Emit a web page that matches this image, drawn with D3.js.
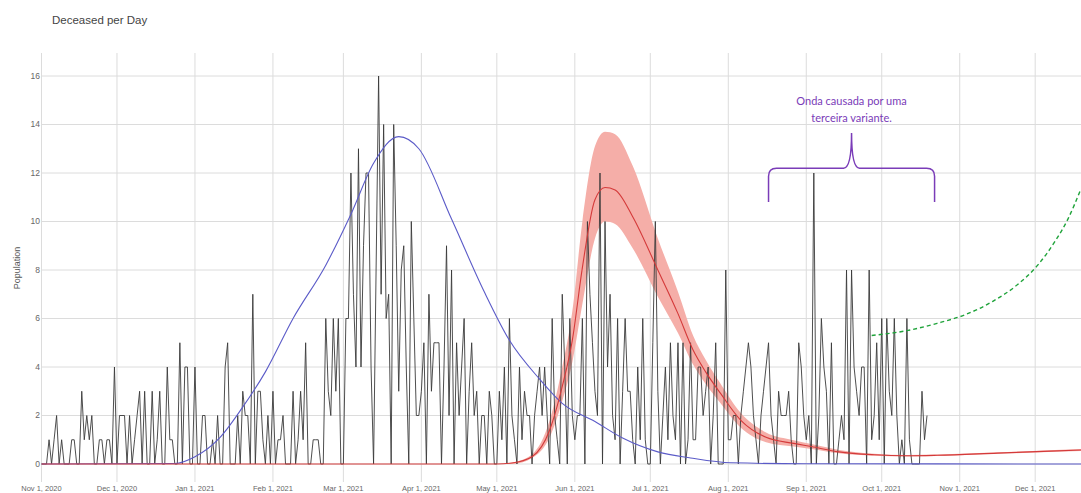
<!DOCTYPE html>
<html>
<head>
<meta charset="utf-8">
<script src="https://cdn.jsdelivr.net/npm/d3@7"></script>
<style>
  body { margin: 0; background: #fff; }
  svg { display: block; font-family: "Liberation Sans", Arial, sans-serif; }
</style>
</head>
<body>
<div id="chart"></div>
<script>
// daily deceased, one value per day starting Nov 1, 2020
const startDate = "2020-11-01";
const deceased = [
  0,0,0,1,0,1,2,0,1,0,
  0,0,1,1,0,0,3,1,2,1,
  2,0,0,1,1,0,1,1,0,4,
  0,2,2,2,0,2,0,1,2,3,
  0,3,0,0,3,0,1,3,0,0,
  4,1,1,0,0,5,0,4,4,0,
  0,4,0,0,2,2,0,0,1,0,
  2,0,0,4,5,0,0,0,2,0,
  3,2,2,0,7,0,3,3,1,0,
  2,0,3,0,1,1,2,0,0,0,
  3,0,1,3,1,5,0,0,1,1,
  1,0,0,6,3,2,6,3,6,0,
  0,6,6,12,7,4,13,4,9,12,
  12,4,0,8,16,7,14,6,7,0,
  14,9,3,8,9,4,0,10,6,2,
  2,3,5,0,7,3,5,5,5,0,
  4,9,2,8,0,5,2,4,6,0,
  3,5,2,3,0,2,2,0,3,2,
  0,0,3,1,4,0,6,2,1,0,
  4,1,3,2,2,0,2,3,4,2,
  4,2,0,6,2,1,0,7,4,0,
  6,2,1,2,2,6,0,10,7,5,
  3,2,12,0,10,4,7,2,1,6,
  0,3,6,3,3,1,0,4,1,6,
  1,0,0,5,10,3,0,2,4,1,
  5,2,1,5,0,5,0,1,5,1,
  1,4,4,2,3,4,0,2,5,0,
  0,0,8,1,1,2,2,0,2,3,
  4,5,4,2,1,0,2,3,4,5,
  2,1,0,3,2,2,2,3,1,0,
  0,5,4,2,1,2,0,12,0,2,
  6,4,3,0,5,0,0,1,2,1,
  8,0,8,4,3,2,4,4,0,8,
  1,2,5,1,6,0,6,3,2,6,
  2,0,1,0,6,1,0,0,0,0,
  3,1,2
];

// first wave fit (blue)
const wave1Dates = ["2020-11-01","2020-12-24","2021-01-01","2021-01-11","2021-01-19","2021-01-29",
  "2021-02-09","2021-02-22","2021-03-04","2021-03-13","2021-03-23","2021-03-31","2021-04-13",
  "2021-04-26","2021-05-06","2021-05-18","2021-05-27","2021-06-09","2021-06-20","2021-07-04",
  "2021-07-17","2021-08-02","2021-09-01","2021-12-20"];
const wave1Values = [0,0.02,0.3,1.1,2.2,3.8,6.0,8.2,10.3,12.4,13.5,13.0,10.1,7.1,5.1,3.5,2.5,1.75,1.07,0.5,0.25,0.05,0.01,0];

// second wave fit (red) with its band
const wave2Dates = ["2020-11-01","2021-05-01","2021-05-07","2021-05-15","2021-05-22","2021-05-27",
  "2021-05-31","2021-06-04","2021-06-09","2021-06-13","2021-06-17","2021-06-24","2021-07-04",
  "2021-07-12","2021-07-18","2021-07-23","2021-07-29","2021-08-06","2021-08-16","2021-08-27",
  "2021-09-03","2021-09-14","2021-09-28","2021-10-11","2021-10-23","2021-11-16","2021-12-20"];
const wave2Values = [0,0,0.04,0.3,1.4,3.2,5.1,8.1,10.9,11.4,11.3,10.2,8.0,6.2,4.7,3.8,2.9,1.8,1.1,0.85,0.72,0.5,0.38,0.34,0.36,0.45,0.58];
const wave2Low = [0,0,0,0.25,1.1,2.6,4.2,6.6,9.3,10.0,9.9,8.9,6.9,5.4,4.1,3.3,2.5,1.5,0.9,0.72,0.62,0.44,0.34,0.31,0.33,0.42,0.54];
const wave2High = [0,0,0.06,0.4,1.8,4.0,6.3,10.0,13.1,13.7,13.6,12.3,9.3,7.1,5.3,4.3,3.3,2.1,1.3,0.98,0.82,0.58,0.42,0.37,0.39,0.48,0.62];

// third wave projection (green dashed)
const wave3Dates = ["2021-09-27","2021-10-11","2021-10-23","2021-11-03","2021-11-14","2021-11-24",
  "2021-12-02","2021-12-09","2021-12-14","2021-12-19"];
const wave3Values = [5.3,5.5,5.8,6.15,6.7,7.4,8.2,9.2,10.1,11.3];

const yTicks = [0,2,4,6,8,10,12,14,16];
const xTickDates = ["2020-11-01","2020-12-01","2021-01-01","2021-02-01","2021-03-01","2021-04-01",
  "2021-05-01","2021-06-01","2021-07-01","2021-08-01","2021-09-01","2021-10-01","2021-11-01","2021-12-01"];
const xTickLabels = ["Nov 1, 2020","Dec 1, 2020","Jan 1, 2021","Feb 1, 2021","Mar 1, 2021","Apr 1, 2021",
  "May 1, 2021","Jun 1, 2021","Jul 1, 2021","Aug 1, 2021","Sep 1, 2021","Oct 1, 2021","Nov 1, 2021","Dec 1, 2021"];

// annotation: brace span and text
const braceDates = ["2021-08-17","2021-09-19","2021-10-22"];
const braceLevels = [10.8,12.2,13.65];
const noteLines = ["Onda causada por uma","terceira variante."];
const noteLevels = [14.95,14.28];

const width = 1081;
const height = 493;
const parse = d3.utcParse("%Y-%m-%d");
const start = parse(startDate);

const x = d3.scaleUtc()
  .domain([parse("2020-11-01"), parse("2021-12-20")])
  .range([41.5, 1083]);
const y = d3.scaleLinear().domain([0, 16]).range([464, 76]);

const svg = d3.select("#chart").append("svg")
  .attr("width", width)
  .attr("height", height);

svg.append("defs").append("clipPath").attr("id", "plot")
  .append("rect").attr("x", 40).attr("y", 40).attr("width", width - 40).attr("height", 445);

svg.append("text")
  .attr("x", 52).attr("y", 24)
  .attr("font-size", 11.5)
  .attr("fill", "#444")
  .text("Deceased per Day");

// grid
svg.append("g").selectAll("line")
  .data(yTicks)
  .join("line")
  .attr("x1", 42).attr("x2", width)
  .attr("y1", (d) => y(d)).attr("y2", (d) => y(d))
  .attr("stroke", "#dcdcdc");

svg.append("g").selectAll("line")
  .data(xTickDates)
  .join("line")
  .attr("x1", (d) => x(parse(d))).attr("x2", (d) => x(parse(d)))
  .attr("y1", 53).attr("y2", 482)
  .attr("stroke", "#dcdcdc");

svg.append("g").selectAll("text")
  .data(yTicks)
  .join("text")
  .attr("x", 40).attr("y", (d) => y(d))
  .attr("dy", "0.35em")
  .attr("text-anchor", "end")
  .attr("font-size", 8.5)
  .attr("fill", "#666")
  .text((d) => d);

svg.append("g").selectAll("text")
  .data(xTickDates)
  .join("text")
  .attr("x", (d) => x(parse(d))).attr("y", 491)
  .attr("text-anchor", "middle")
  .attr("font-size", 7.5)
  .attr("fill", "#666")
  .text((d, i) => xTickLabels[i]);

svg.append("text")
  .attr("transform", "translate(20,268) rotate(-90)")
  .attr("text-anchor", "middle")
  .attr("font-size", 9)
  .attr("fill", "#555")
  .text("Population");

const plot = svg.append("g").attr("clip-path", "url(#plot)");

const wave2 = wave2Dates.map((d, i) => ({
  date: parse(d), value: wave2Values[i], low: wave2Low[i], high: wave2High[i]
}));

plot.append("path")
  .datum(wave2)
  .attr("fill", "#f5aea8")
  .attr("d", d3.area()
    .curve(d3.curveMonotoneX)
    .x((d) => x(d.date))
    .y0((d) => y(d.low))
    .y1((d) => y(d.high)));

const daily = deceased.map((v, i) => ({ date: d3.utcDay.offset(start, i), value: v }));

plot.append("path")
  .datum(daily)
  .attr("fill", "none")
  .attr("stroke", "#3a3a3a")
  .attr("stroke-width", 0.9)
  .attr("stroke-linejoin", "round")
  .attr("d", d3.line().x((d) => x(d.date)).y((d) => y(d.value)));

const curve = d3.line()
  .curve(d3.curveMonotoneX)
  .x((d) => x(d.date))
  .y((d) => y(d.value));

plot.append("path")
  .datum(wave1Dates.map((d, i) => ({ date: parse(d), value: wave1Values[i] })))
  .attr("fill", "none")
  .attr("stroke", "#5b5bc8")
  .attr("stroke-width", 1.1)
  .attr("d", curve);

plot.append("path")
  .datum(wave2)
  .attr("fill", "none")
  .attr("stroke", "#d43a3a")
  .attr("stroke-width", 1.1)
  .attr("d", curve);

plot.append("path")
  .datum(wave3Dates.map((d, i) => ({ date: parse(d), value: wave3Values[i] })))
  .attr("fill", "none")
  .attr("stroke", "#1fa33a")
  .attr("stroke-width", 1.4)
  .attr("stroke-dasharray", "4 3")
  .attr("d", curve);

// brace annotation
const bx0 = x(parse(braceDates[0]));
const bxm = x(parse(braceDates[1]));
const bx1 = x(parse(braceDates[2]));
const byEnd = y(braceLevels[0]);
const byBar = y(braceLevels[1]);
const byTip = y(braceLevels[2]);
const r = 8;
const brace = d3.path();
brace.moveTo(bx0, byEnd);
brace.lineTo(bx0, byBar + r);
brace.quadraticCurveTo(bx0, byBar, bx0 + r, byBar);
brace.lineTo(bxm - r, byBar);
brace.quadraticCurveTo(bxm, byBar, bxm, byTip);
brace.quadraticCurveTo(bxm, byBar, bxm + r, byBar);
brace.lineTo(bx1 - r, byBar);
brace.quadraticCurveTo(bx1, byBar, bx1, byBar + r);
brace.lineTo(bx1, byEnd);

svg.append("path")
  .attr("d", brace.toString())
  .attr("fill", "none")
  .attr("stroke", "#7a3cb8")
  .attr("stroke-width", 1.5);

svg.append("g").selectAll("text")
  .data(noteLines)
  .join("text")
  .attr("x", bxm)
  .attr("y", (d, i) => y(noteLevels[i]))
  .attr("dy", "0.35em")
  .attr("text-anchor", "middle")
  .attr("font-family", "Lato, 'Open Sans', sans-serif")
  .attr("font-size", 11)
  .attr("fill", "#7a3cb8")
  .text((d) => d);
</script>
</body>
</html>
